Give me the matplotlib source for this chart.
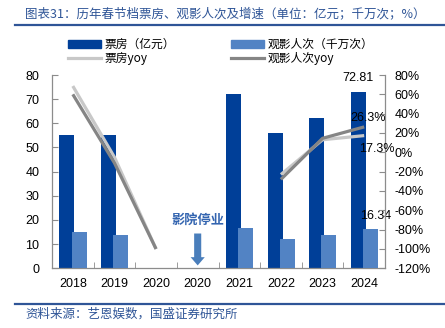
import matplotlib
matplotlib.use("Agg")
import matplotlib.pyplot as plt
from matplotlib.patches import FancyArrow, Patch
from matplotlib.lines import Line2D
from matplotlib.ticker import FuncFormatter, FixedLocator
import numpy as np

plt.rcParams['font.family'] = ['Liberation Sans', 'Noto Sans CJK SC', 'DejaVu Sans']

categories = ['2018', '2019', '2020', '2020', '2021', '2022', '2023', '2024']
box_office = [55.0, 55.2, np.nan, np.nan, 72.0, 55.8, 62.4, 72.81]        # 亿元
admissions = [15.1, 13.9, np.nan, np.nan, 16.8, 12.1, 13.8, 16.34]       # 千万次
box_yoy = [68.6, -5.0, -100.0, np.nan, np.nan, -23.0, 13.0, 17.3]         # %
adm_yoy = [60.0, -11.0, -100.0, np.nan, np.nan, -28.0, 14.5, 26.3]        # %

title = '图表31：历年春节档票房、观影人次及增速（单位：亿元；千万次；%）'
source = '资料来源：艺恩娱数，国盛证券研究所'
note = '影院停业'

C_DARK = '#003f98'
C_LIGHT = '#5283c4'
C_LY = '#c8c8c8'
C_DY = '#858585'
C_TEXT = '#2f5597'
CJK = ['Noto Sans CJK SC', 'DejaVu Sans']

fig = plt.figure(figsize=(4.45, 3.28), dpi=100)
ax = fig.add_axes([52/445, 1-268.3/328, (385-52)/445, (268.3-75)/328])
ax2 = ax.twinx()

x = np.arange(len(categories))
bw = 0.36
b1 = ax.bar(x - 0.14, box_office, bw, color=C_DARK, zorder=2)
b2 = ax.bar(x + 0.15, admissions, bw, color=C_LIGHT, zorder=3)

ax2.plot(x, box_yoy, color=C_LY, lw=2.3, solid_capstyle='butt', zorder=4)
ax2.plot(x, adm_yoy, color=C_DY, lw=2.3, solid_capstyle='butt', zorder=5)

ax.set_xlim(-0.5, len(categories) - 0.5)
ax.set_ylim(0, 80)
ax.set_yticks(np.arange(0, 81, 10))
ax2.set_ylim(-120, 80)
ax2.set_yticks(np.arange(-120, 81, 20))
ax2.yaxis.set_major_formatter(FuncFormatter(lambda v, p: f'{int(v)}%'))

ax.set_xticks(x)
ax.set_xticklabels(categories)
ax.xaxis.set_minor_locator(FixedLocator(np.arange(0.5, len(categories) - 1, 1.0)))
ax.tick_params(axis='x', which='major', length=0, pad=7, labelsize=9)
ax.tick_params(axis='x', which='minor', length=4, direction='in', color='#8c8c8c')
ax.tick_params(axis='y', length=4, direction='in', color='#8c8c8c', labelsize=9, pad=9)
ax2.tick_params(axis='y', length=4, direction='in', color='#8c8c8c', labelsize=9, pad=7)

for a in (ax, ax2):
    a.spines['top'].set_visible(False)
    for s in ('left', 'right', 'bottom'):
        a.spines[s].set_color('#8c8c8c')
        a.spines[s].set_linewidth(0.9)
ax.spines['right'].set_visible(False)
ax2.spines['left'].set_visible(False)
ax2.spines['bottom'].set_visible(False)

# data labels
i = len(categories) - 1
ax.annotate(f'{box_office[i]:.2f}', (x[i] - 0.14, box_office[i]), xytext=(0, 6),
            textcoords='offset points', ha='center', va='bottom', fontsize=9)
ax.annotate(f'{admissions[i]:.2f}', (x[i] + 0.15, admissions[i]), xytext=(4, 5),
            textcoords='offset points', ha='center', va='bottom', fontsize=9, zorder=6)
ax2.annotate(f'{adm_yoy[i]:.1f}%', (x[i], adm_yoy[i]), xytext=(3, 2),
             textcoords='offset points', ha='center', va='bottom', fontsize=9)
ax2.annotate(f'{box_yoy[i]:.1f}%', (x[i], box_yoy[i]), xytext=(9, -5),
             textcoords='offset points', ha='center', va='top', fontsize=9)

# annotation
ax.text(3, 20.2, note, ha='center', va='center', fontsize=9.5, color='#3465b0',
        family=CJK, fontweight='bold')
ax.add_patch(FancyArrow(3, 14.4, 0, -13.2, width=0.17, head_width=0.34,
                        head_length=3.4, length_includes_head=True,
                        color='#4a7ebb', lw=0, zorder=4))

handles = [Patch(color=C_DARK), Line2D([], [], color=C_LY, lw=2.3),
           Patch(color=C_LIGHT), Line2D([], [], color=C_DY, lw=2.3)]
labels = ['票房（亿元）', '票房yoy', '观影人次（千万次）', '观影人次yoy']
fig.legend(handles, labels, ncol=2, loc='upper left', bbox_to_anchor=(68/445, 1-38/328),
           frameon=False, prop={'family': CJK, 'size': 8.5}, handlelength=2.8,
           handleheight=0.6, handletextpad=0.3, labelspacing=0.05, columnspacing=4.7,
           borderpad=0, borderaxespad=0)

fig.text(25/445, 1-14/328, title, fontsize=9, color=C_TEXT, family=CJK,
         ha='left', va='center', style='italic')
fig.add_artist(Line2D([15/445, 1.0], [1-25/328, 1-25/328], color=C_TEXT, lw=1.6))
fig.add_artist(Line2D([15/445, 1.0], [1-304/328, 1-304/328], color=C_TEXT, lw=1.6))
fig.text(25/445, 1-314/328, source, fontsize=9, color=C_TEXT, family=CJK,
         ha='left', va='center', style='italic')

fig.savefig('out.png', dpi=100)
